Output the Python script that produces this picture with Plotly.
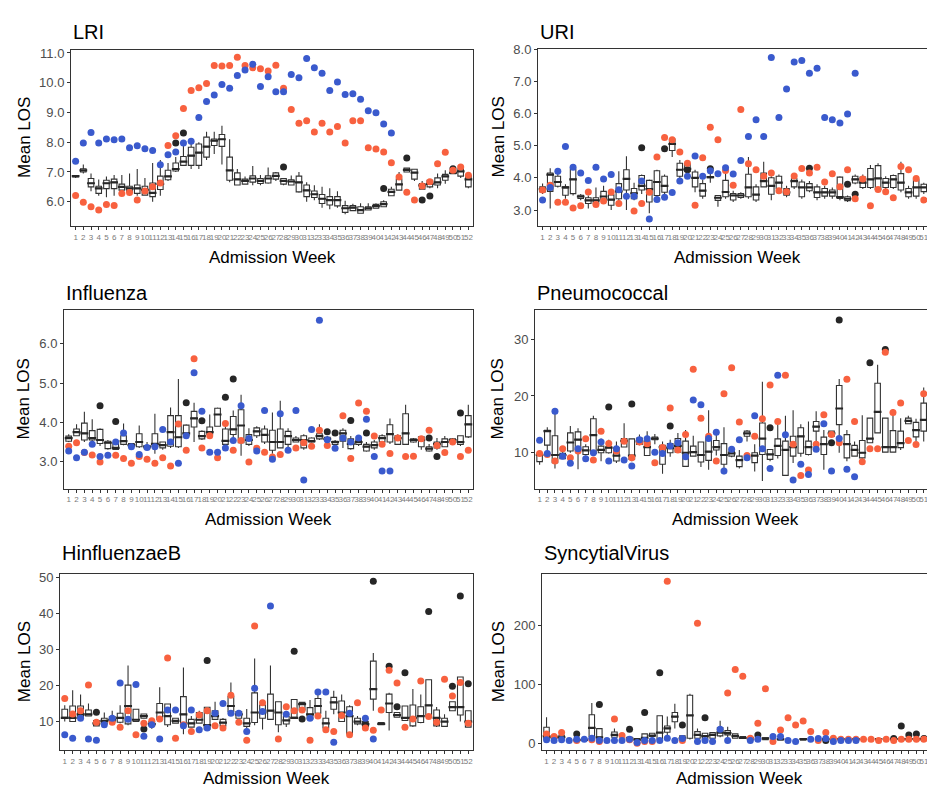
import plotly.graph_objects as go

W, H = 935, 787
weeks = list(range(1, 53))
week_labels = [str(w) for w in weeks]
N = None

# ---------------- LRI ----------------
lri_q1 = [6.83,7.0,6.5,6.28,6.44,6.44,6.39,6.33,6.28,6.22, 6.17,6.41,6.74,7.03,7.22,7.22,7.22,7.5,7.89,7.86,
          6.72,6.56,6.59,6.66,6.61,6.63,6.76,6.59,6.56,6.33, 6.17,6.14,5.94,5.89,5.86,5.64,5.7,5.61,5.72,5.78,
          5.83,6.2,6.39,7.0,6.76,6.42,6.5,6.56,6.72,6.94, 6.86,6.5]
lri_med = [6.86,7.05,6.62,6.45,6.62,6.65,6.5,6.45,6.45,6.4, 6.3,6.6,6.85,7.1,7.35,7.55,7.65,7.85,8.05,8.1,
           7.05,6.75,6.7,6.78,6.7,6.78,6.87,6.7,6.68,6.65, 6.38,6.25,6.1,6.05,6.05,5.78,5.8,5.72,5.78,5.85,
           5.92,6.33,6.58,7.07,6.98,6.55,6.6,6.65,6.85,6.97, 7.02,6.75]
lri_q3 = [6.88,7.11,6.78,6.52,6.72,6.76,6.59,6.52,6.56,6.52, 6.63,6.86,7.06,7.3,7.52,7.83,7.94,8.17,8.11,8.26,
          7.5,6.97,6.76,6.87,6.78,6.87,6.97,6.78,6.74,6.86, 6.56,6.36,6.24,6.17,6.17,5.87,5.87,5.83,5.83,5.91,
          6.0,6.42,6.76,7.13,7.09,6.61,6.72,6.8,6.92,7.02, 7.11,6.89]
lri_lo = [6.8,6.95,6.35,6.2,6.15,6.2,6.3,6.2,6.2,6.2, 6.0,6.2,6.7,7.0,7.2,7.1,7.1,7.4,7.6,7.25,
          6.65,6.55,6.6,6.55,6.55,6.6,6.7,6.55,6.55,6.3, 6.0,6.05,5.8,5.75,5.8,5.58,5.7,5.65,5.72,5.78,
          5.83,6.18,6.4,7.0,6.7,6.4,6.45,6.45,6.6,6.94, 6.8,6.45]
lri_hi = [6.9,7.25,6.95,6.75,6.85,6.9,6.9,6.95,7.1,6.8, 7.3,7.4,7.3,7.5,7.9,8.0,8.0,8.35,8.35,8.55,
          8.1,7.1,6.85,7.2,6.9,7.15,7.0,6.8,6.88,7.0, 6.65,6.55,6.5,6.45,6.35,6.03,5.93,5.95,5.95,5.95,
          6.05,6.5,7.0,7.15,7.1,6.7,6.72,6.95,7.06,7.1, 7.2,6.95]
lri_red = [6.21,5.98,5.83,5.72,5.91,5.87,6.28,6.31,6.06,6.36, 6.5,6.63,7.89,8.22,9.13,9.74,9.83,9.97,10.58,10.56,
           10.58,10.86,10.58,10.5,10.47,10.39,10.59,9.81,9.1,8.64, 8.72,8.34,8.64,8.34,8.53,7.97,8.72,8.72,7.81,7.77,
           7.67,7.31,6.83,6.32,6.06,6.53,6.67,7.28,7.66,7.06, 7.17,6.89]
lri_blue = [7.36,7.97,8.33,7.97,8.11,8.08,8.11,7.81,7.88,7.78, 7.72,7.24,7.58,7.67,7.97,8.03,8.83,9.37,9.59,9.94,
            9.81,10.24,10.43,10.62,9.87,10.2,9.7,9.7,10.28,10.17, 10.81,10.5,10.32,9.74,10.02,9.6,9.63,9.44,9.06,8.99,
            8.61,8.31,N,N,N,N,N,N,N,N, N,N]
lri_black = [N]*13 + [7.97,8.31] + [N]*12 + [7.17] + [N]*12 + [6.44,N,N,7.47,N,6.06,6.19,N,N,7.11,N,N]

# ---------------- URI ----------------
uri_q1 = [3.56,3.58,3.74,3.46,3.51,3.36,3.2,3.2,3.32,3.15, 3.35,3.62,3.35,3.62,3.25,3.45,3.55,4.85,4.05,4.2,
          3.72,3.43,4.0,3.3,3.41,3.31,3.39,3.41,3.31,3.72, 3.49,3.67,3.46,3.72,3.41,3.6,3.39,3.43,3.43,3.36,
          3.29,3.84,3.7,3.7,3.64,3.7,3.7,3.62,3.41,3.43, 3.57,3.36]
uri_med = [3.65,4.1,3.87,3.7,3.95,3.42,3.3,3.3,3.42,3.32, 3.58,3.97,3.52,3.75,3.65,3.87,3.75,5.05,4.25,4.28,
           4.0,3.6,4.02,3.38,3.56,3.45,3.45,3.7,3.48,3.9, 3.75,3.85,3.55,3.9,3.7,3.7,3.55,3.55,3.55,3.4,
           3.35,3.95,3.85,3.95,3.98,3.85,3.95,3.85,3.55,3.7, 3.7,3.45]
uri_q3 = [3.72,4.15,4.05,3.72,4.27,3.46,3.38,3.38,3.58,3.47, 3.82,4.25,3.67,4.07,3.92,4.22,4.05,5.2,4.45,4.42,
          4.18,3.82,4.03,3.45,3.92,3.51,3.51,4.11,3.72,4.15, 4.0,4.05,3.67,3.97,3.87,3.82,3.72,3.67,3.62,4.02,
          3.41,4.05,4.02,4.29,4.38,3.98,4.07,4.13,3.67,3.94, 3.8,3.51]
uri_lo = [3.5,3.05,3.7,3.35,3.45,3.3,3.05,3.1,3.25,3.0, 3.25,3.0,3.3,3.5,2.9,3.4,3.45,4.65,3.95,4.15,
          3.55,3.35,3.85,3.1,3.35,3.25,3.35,3.35,3.25,3.7, 3.3,3.6,3.4,3.65,3.35,3.55,3.3,3.35,3.35,3.3,
          3.25,3.8,3.65,3.65,3.6,3.6,3.65,3.55,3.35,3.35, 3.5,3.3]
uri_hi = [3.82,4.3,4.2,3.8,4.35,3.5,3.45,3.7,3.75,3.6, 4.2,4.67,3.85,4.1,3.95,4.25,4.1,5.25,4.55,4.45,
          4.25,3.95,4.15,3.45,4.3,3.6,3.55,4.65,3.8,4.5, 4.05,4.1,3.75,4.05,3.95,3.9,3.8,3.75,3.7,4.05,
          3.45,4.1,4.1,4.4,4.45,4.05,4.1,4.5,3.75,4.05, 3.85,3.55]
uri_red = [3.62,3.77,3.24,3.24,3.06,3.13,3.56,3.17,3.28,3.56, 3.2,N,2.97,3.2,3.55,4.65,5.25,5.18,4.8,4.45,
           3.15,4.62,5.57,5.18,4.23,3.77,6.12,4.44,4.25,4.05, 4.15,3.6,3.57,4.06,4.29,4.15,4.33,3.87,4.13,3.72,
           4.25,3.35,3.96,3.13,3.64,3.57,3.38,4.35,4.25,3.98, 3.31,3.13]
uri_blue = [3.31,3.7,4.2,4.97,4.33,4.15,3.92,4.33,3.96,4.1, 3.63,3.43,3.43,3.9,2.72,3.33,3.4,3.54,3.9,4.05,
            4.68,4.05,4.22,4.13,4.31,4.12,4.54,5.28,5.8,5.28, 7.74,5.87,6.76,7.6,7.64,7.25,7.4,5.87,5.8,5.7,
            5.98,7.25,N,N,N,N,N,N,N,N, N,N]
uri_black = [N]*13 + [4.93,N,N,4.9,N,N,4.25,N,N,4.28] + [N]*12 + [4.3] + [N]*4 + [3.8,3.49] + [N]*10

# ---------------- Influenza ----------------
flu_q1 = [3.52,3.66,3.55,3.55,3.46,3.33,3.31,3.44,3.38,3.38, 3.33,3.38,3.35,3.39,3.38,3.66,3.88,3.58,3.69,3.9,
          3.44,3.69,3.48,3.44,3.66,3.5,3.29,3.35,3.44,3.5, 3.35,3.5,3.58,3.55,3.44,3.52,3.33,3.44,3.27,3.35,
          3.5,3.5,3.44,3.44,3.5,3.38,3.27,3.35,3.38,3.52, 3.44,3.63]
flu_med = [3.6,3.75,3.72,3.6,3.55,3.48,3.35,3.52,3.42,3.5, 3.38,3.45,3.42,3.75,3.62,3.72,4.1,3.65,3.75,4.2,
           3.53,3.82,3.92,3.55,3.77,3.68,3.5,3.5,3.65,3.55, 3.55,3.52,3.65,3.58,3.5,3.72,3.45,3.5,3.38,3.42,
           3.6,3.7,3.6,3.72,3.55,3.55,3.33,3.45,3.5,3.55, 3.5,3.95]
flu_q3 = [3.65,3.83,3.98,3.79,3.82,3.52,3.48,3.66,3.46,3.71, 3.41,3.71,3.5,4.17,4.17,3.93,4.28,3.77,3.88,4.36,
          3.83,4.15,4.32,3.69,3.86,3.83,3.8,3.83,3.77,3.6, 3.66,3.6,3.71,3.62,3.52,3.8,3.58,3.55,3.44,3.5,
          3.66,3.94,3.66,4.22,3.58,3.63,3.38,3.5,3.58,3.58, 3.66,4.17]
flu_lo = [3.5,3.65,3.5,3.45,3.4,3.3,3.3,3.42,3.35,3.35, 3.3,3.2,3.3,3.35,3.35,3.6,3.5,3.55,3.65,3.9,
          3.35,3.6,3.15,3.4,3.6,3.45,3.2,3.4,3.3,3.5, 3.3,3.48,3.55,3.5,3.4,3.35,3.3,3.4,3.25,3.3,
          3.4,3.45,3.45,3.44,3.48,3.3,3.25,3.3,3.4,3.5, 3.4,3.6]
flu_hi = [3.7,3.95,4.27,4.08,3.85,3.55,3.55,3.97,3.45,3.92, 3.5,4.22,3.5,4.38,5.1,3.95,4.5,3.8,4.2,4.38,
          3.9,4.3,4.7,3.85,3.9,3.92,4.25,4.55,3.85,3.65, 3.7,3.62,3.95,3.65,3.55,3.85,3.65,3.62,3.5,3.55,
          3.7,4.1,3.7,4.45,3.6,3.65,3.45,3.6,3.65,3.6, 3.66,4.45]
flu_red = [3.39,3.48,3.23,3.17,2.99,N,3.16,3.08,2.96,3.13, 3.06,2.96,3.1,2.89,3.96,3.29,5.62,3.35,3.66,3.1,
           3.97,3.29,3.54,2.99,3.34,3.24,3.12,3.18,N,3.35, 3.48,3.39,3.8,3.41,N,4.17,3.08,4.49,4.28,3.65,
           3.44,3.21,3.6,3.13,3.14,3.58,3.8,3.41,3.23,3.5, 3.13,3.29]
flu_blue = [3.27,3.1,3.24,3.44,3.13,3.16,3.5,3.73,3.38,3.18, 3.36,3.38,3.82,3.5,2.96,3.66,5.26,4.28,3.24,3.24,
            3.35,3.54,4.42,3.59,3.27,4.3,3.06,4.22,3.29,4.3, 2.53,3.82,6.6,3.56,3.34,3.6,3.5,3.6,4.08,3.13,
            2.76,2.76,N,N,N,N,N,N,N,N, N,N]
flu_black = [N,N,N,N,4.42,N,4.02,N,N,N, N,N,N,N,N,4.5,N,4.04,N,N, 4.64,5.1,N,N,N,N,N,N,N,N,
             N,N,N,3.76,3.73,N,4.05,N,3.73,N, N,N,N,N,N,N,3.6,3.13,N,N, 4.24,N]

# ---------------- Pneumococcal ----------------
pne_q1 = [8.43,11.34,8.25,8.95,10.3,10.58,9.7,9.88,10.0,10.0, 8.54,11.0,8.83,11.45,9.5,12.3,7.96,10.0,10.1,7.6,
          9.4,8.37,8.66,10.47,7.96,9.4,7.55,12.9,8.25,9.7, 8.83,9.5,6.0,9.4,9.9,9.7,13.8,9.7,12.9,14.95,
          9.1,9.4,9.1,11.75,13.5,10.1,10.1,10.9,15.1,12.8, 13.8,9.1]
pne_med = [9.6,13.8,9.6,9.6,11.8,12.3,10.4,13.1,10.5,10.9, 9.5,12.1,9.5,12.0,11.0,12.5,11.0,10.8,11.2,10.0,
           10.1,9.6,10.2,11.0,9.6,9.9,8.7,13.4,9.5,12.5, 9.7,11.2,10.5,11.0,12.9,11.0,14.6,11.5,13.4,17.8,
           11.5,10.5,10.0,12.5,17.2,11.0,11.0,11.7,15.6,14.0, 15.8,11.0]
pne_q3 = [9.9,13.97,13.0,9.88,13.5,13.67,11.05,16.0,11.17,11.05, 10.87,12.5,12.45,12.6,12.05,12.75,11.3,11.63,12.5,12.05,
          11.17,11.9,12.6,12.15,11.6,10.3,9.4,13.8,10.0,15.25, 10.58,12.45,12.05,12.9,14.4,12.05,15.5,12.75,13.8,21.85,
          13.2,11.3,12.15,16.1,22.25,16.1,13.9,13.8,16.1,15.35, 18.75,12.05]
pne_lo = [7.9,9.5,7.2,9.0,10.0,7.1,9.5,9.9,8.5,9.8, 8.2,11.0,8.5,11.3,9.5,11.5,6.3,9.3,10.1,7.5,
          9.4,7.5,7.0,9.5,6.2,9.2,7.2,12.0,6.7,5.0, 8.5,9.0,6.0,8.2,9.3,9.5,11.8,7.0,12.9,10.0,
          8.5,9.4,8.7,11.75,13.5,10.0,10.0,10.5,15.0,12.0, 12.0,9.1]
pne_hi = [10.0,14.5,16.9,10.2,14.7,14.3,11.5,16.5,12.5,12.3, 12.0,15.2,12.5,13.2,13.8,13.3,12.0,12.3,13.5,14.0,
          13.0,12.0,17.5,13.3,14.5,10.5,10.5,14.0,11.5,22.5, 10.6,15.0,16.5,17.5,15.0,15.5,17.3,14.0,13.8,23.0,
          14.0,12.0,16.6,16.1,25.5,16.1,17.7,16.1,16.5,16.0, 21.5,12.05]
pne_red = [9.88,9.7,8.54,10.7,9.1,10.3,12.45,8.72,13.8,11.63, 10.3,12.04,9.1,11.9,11.6,8.25,10.9,17.9,10.47,13.2,
           24.7,16.1,12.9,8.54,20.4,25.0,15.4,9.5,12.9,16.0, 21.95,15.5,23.65,11.5,6.0,6.97,11.5,16.7,13.2,11.75,
           22.95,15.5,8.4,10.7,10.7,27.7,17.1,18.75,12.15,11.45, 20.4,12.5]
pne_blue = [12.2,9.88,17.3,9.4,8.13,10.7,8.95,10.0,11.9,8.54, 10.7,8.72,7.67,12.3,12.45,10.1,9.88,11.2,11.75,9.3,
            19.3,18.45,12.5,13.6,6.8,10.6,12.3,9.1,16.5,10.7, 7.2,23.65,13.15,5.2,7.96,6.15,10.6,15.1,6.8,12.5,
            7.1,5.75,N,N,N,N,N,N,N,N, N,N]
pne_black = [N]*9 + [18.05,N,N,18.6] + [N]*4 + [14.7] + [N]*12 + [14.4] + [N]*7 + [11.75,33.4,N,N,N,25.85,N,28.2] + [N]*6

# ---------------- HinfluenzaeB ----------------
hib_q1 = [10.9,10.0,10.9,11.55,8.8,9.35,10.0,9.8,9.35,10.0, 10.9,8.8,10.6,9.1,9.55,9.55,8.45,9.55,7.9,10.6,
          8.8,12.75,10.9,8.65,9.75,10.9,10.6,9.1,9.3,10.9, 13.2,10.7,12.3,8.2,13.4,10.0,6.6,9.35,8.65,16.2,
          9.1,12.5,11.2,10.3,8.8,9.75,11.4,8.8,8.65,13.0, 11.8,8.45]
hib_med = [11.0,11.0,12.0,12.0,9.5,10.2,10.5,11.0,14.3,10.5, 11.5,9.3,12.5,11.5,10.2,12.0,9.5,10.5,9.0,11.5,
           9.7,14.3,12.0,9.5,12.5,12.5,13.0,12.5,10.3,11.0, 14.8,12.0,14.3,9.5,15.3,12.5,11.5,10.0,9.3,19.0,
           9.35,15.0,11.8,11.0,11.0,11.5,14.5,11.0,10.0,14.0, 14.0,10.0]
hib_q3 = [13.4,14.3,14.3,13.2,10.3,10.9,11.4,12.3,20.1,13.4, 12.1,10.0,15.0,14.85,10.9,16.9,10.6,12.5,13.95,13.0,
          10.6,16.9,12.75,10.9,17.95,14.6,17.6,15.5,11.4,16.1, 15.3,13.85,16.4,10.9,16.7,15.7,14.1,10.9,10.0,26.75,
          9.7,17.6,12.5,14.3,14.6,14.1,21.6,13.2,10.9,15.5, 22.35,13.0]
hib_lo = [10.0,10.0,10.9,11.5,8.8,9.35,9.5,9.5,9.0,10.0, 10.9,8.0,10.0,8.5,9.5,6.5,8.3,9.5,7.9,10.5,
          8.5,12.0,10.9,8.0,9.0,7.8,10.5,7.0,8.5,10.9, 13.2,10.5,12.0,8.0,12.0,10.0,6.5,9.0,8.65,13.0,
          9.1,7.5,11.2,10.3,8.5,9.5,11.4,8.5,9.0,13.0, 10.0,8.45]
hib_hi = [14.5,18.7,17.5,15.0,10.3,12.5,13.0,14.5,25.5,13.4, 12.1,10.5,19.5,15.0,11.0,25.0,11.5,13.0,13.95,15.5,
          11.0,20.8,12.75,13.5,27.5,15.0,25.5,15.5,11.5,16.1, 15.3,16.0,18.0,13.0,18.5,17.5,14.5,11.5,10.0,29.0,
          9.7,18.0,12.5,14.3,19.0,17.5,21.6,14.0,12.0,15.5, 22.35,13.0]
hib_red = [16.4,12.1,13.0,20.1,9.8,N,9.8,8.45,13.0,6.35, 9.55,10.2,10.7,27.6,5.4,9.1,7.25,11.8,13.0,8.8,
           8.2,17.3,9.8,4.8,36.5,15.2,N,5.15,14.1,13.0, 13.2,4.8,11.5,7.7,7.25,11.65,6.35,15.2,8.2,7.6,
           13.2,24.2,20.7,8.45,10.7,21.25,11.4,9.8,21.7,17.1, 20.8,9.55]
hib_blue = [6.35,5.4,10.9,5.15,4.8,9.1,10.9,20.7,10.6,20.25, 5.9,9.1,5.15,13.2,13.2,8.8,13.2,7.7,8.2,12.3,
            15.0,12.3,12.3,7.25,19.2,12.75,42.0,N,12.0,N, N,10.9,18.2,18.2,4.25,N,12.3,N,10.9,5.15,
            N,N,N,N,N,N,N,N,N,N, N,N]
hib_black = [N,N,N,N,12.6,N,N,N,N,N, 7.9,N,N,N,N,N,N,N,26.9,N, N,N,N,N,N,N,N,N,N,29.5,
             10.7,N,N,N,N,N,N,N,9.1,48.9, N,25.3,14.1,23.5,N,N,40.5,N,N,19.8, 44.8,20.5]

# ---------------- SyncytialVirus ----------------
rsv_q1 = [6.7,7.8,7.8,N,4.0,4.5,11.2,5.6,N,10.0, N,5.6,4.5,4.5,11.2,6.7,18.5,36.4,4.5,8.4,
          8.4,6.7,8.4,12.3,14.0,8.4,8.4,6.0,N,6.0, N,5.0,N,N,5.0,N,N,5.0,N,5.0,
          N,5.0,N,N,5.0,N,5.0,5.0,5.0,5.0, 5.0,N]
rsv_med = [12.0,10.0,10.0,N,5.0,5.5,26.0,10.0,N,14.0, N,8.0,6.0,9.0,13.0,18.0,25.0,45.0,8.0,47.0,
           14.0,12.0,14.0,18.0,17.0,12.0,9.0,8.0,N,8.0, N,7.0,N,N,7.0,N,N,7.0,N,7.0,
           N,7.0,N,N,7.0,N,7.0,7.0,7.0,7.0, 7.0,N]
rsv_q3 = [26.9,12.3,13.4,N,6.0,6.5,48.2,24.6,N,19.0, N,10.0,7.8,15.7,16.8,46.5,29.1,52.1,12.3,81.2,
          19.6,16.8,17.9,26.3,21.3,15.7,11.2,9.0,N,9.0, N,8.0,N,N,8.0,N,N,8.0,N,8.0,
          N,8.0,N,N,8.0,N,8.0,8.0,8.0,8.0, 8.0,N]
rsv_lo = [5.0,7.0,6.0,N,4.0,4.5,8.0,5.0,N,8.0, N,5.0,4.0,4.0,10.0,6.0,12.0,25.0,4.0,6.0,
          5.0,6.0,8.0,10.0,10.0,8.0,8.0,5.0,N,5.0, N,5.0,N,N,5.0,N,N,5.0,N,5.0,
          N,5.0,N,N,5.0,N,5.0,5.0,5.0,5.0, 5.0,N]
rsv_hi = [44.0,13.0,16.0,N,6.0,6.5,68.0,25.0,N,25.0, N,11.0,8.0,16.0,17.0,47.0,45.0,67.0,13.0,84.0,
          25.0,17.0,18.0,38.0,28.0,16.0,12.0,10.0,N,10.0, N,8.0,N,N,8.0,N,N,8.0,N,8.0,
          N,8.0,N,N,8.0,N,8.0,8.0,8.0,8.0, 8.0,N]
rsv_red = [15.7,11.2,17.9,N,4.5,N,5.6,2.8,N,40.9, 12.9,5.6,0.0,2.8,2.8,N,274.5,N,4.5,N,
           203.4,N,N,N,85.2,125.0,113.7,8.4,33.6,92.4, 2.8,22.4,43.1,30.8,37.5,19.6,4.5,17.9,8.4,6.7,
           6.7,6.7,6.7,6.7,4.5,6.7,4.5,6.7,6.7,6.7, 6.7,4.5]
rsv_blue = [5.6,4.5,5.6,4.5,6.7,6.7,8.4,4.5,4.5,4.5, 4.5,6.7,1.1,4.5,4.5,4.5,8.4,4.5,7.8,N,
            2.8,4.5,2.8,23.5,4.5,N,N,4.5,6.7,N, 11.2,11.2,4.5,2.8,N,6.7,7.8,7.8,2.8,4.5,
            4.5,4.5,N,N,N,N,N,N,N,N, N,N]
rsv_black = [N,N,N,N,15.7,N,N,65.5,N,N, N,23.5,N,52.0,N,119.3,N,N,30.8,N, N,43.1,N,N,N,N,N,N,14.0,N,
             N,N,N,N,N,N,N,4.5,N,N, N,N,N,N,N,N,8.0,29.1,14.0,15.7, 8.0,N]

# ---------------- panels ----------------
titles = ["LRI", "URI", "Influenza", "Pneumococcal", "HinfluenzaeB", "SyncytialVirus"]
panels = [
    (lri_q1, lri_med, lri_q3, lri_lo, lri_hi, lri_red, lri_blue, lri_black),
    (uri_q1, uri_med, uri_q3, uri_lo, uri_hi, uri_red, uri_blue, uri_black),
    (flu_q1, flu_med, flu_q3, flu_lo, flu_hi, flu_red, flu_blue, flu_black),
    (pne_q1, pne_med, pne_q3, pne_lo, pne_hi, pne_red, pne_blue, pne_black),
    (hib_q1, hib_med, hib_q3, hib_lo, hib_hi, hib_red, hib_blue, hib_black),
    (rsv_q1, rsv_med, rsv_q3, rsv_lo, rsv_hi, rsv_red, rsv_blue, rsv_black),
]
y_ranges = [[5.18, 11.11], [2.5, 8.01], [2.31, 6.85], [3.65, 35.1], [2.0, 50.9], [-12.3, 287]]
y_ticks = [[6, 7, 8, 9, 10, 11], [3, 4, 5, 6, 7, 8], [3, 4, 5, 6], [10, 20, 30], [10, 20, 30, 40, 50], [0, 100, 200]]
y_tick_text = [["6.0", "7.0", "8.0", "9.0", "10.0", "11.0"], ["3.0", "4.0", "5.0", "6.0", "7.0", "8.0"],
               ["3.0", "4.0", "5.0", "6.0"], ["10", "20", "30"], ["10", "20", "30", "40", "50"], ["0", "100", "200"]]

# panel boxes in pixels: (left, right, top, bottom)
boxes_px = [(63, 465, 35, 213), (530, 928, 34, 213),
            (56, 465, 298, 478), (527, 928, 298, 478),
            (52, 465, 564, 742), (534, 928, 564, 742)]
title_px = [(63, 17), (530, 17), (56, 280), (527, 280), (52, 543), (534, 543)]
ytitle_x = [17, 490, 16, 490, 16, 490]
xtitle_y = [245, 509, 770]

RED = "#F8613F"
BLUE = "#3A5ACD"
BLACK = "#262626"
FONT = "Liberation Sans, Arial, sans-serif"

fig = go.Figure()
layout = dict(width=W, height=H, margin=dict(l=0, r=0, t=0, b=0),
              paper_bgcolor="white", plot_bgcolor="white", showlegend=False,
              font=dict(family=FONT), annotations=[])

for i, (data, (l, r, t, b)) in enumerate(zip(panels, boxes_px)):
    q1, med, q3, lo, hi, red, blue, black = data
    ax = "" if i == 0 else str(i + 1)
    xa, ya = "x" + ax, "y" + ax
    idx = [k for k in range(52) if q1[k] is not None]
    bx = [weeks[k] for k in idx]
    fig.add_trace(go.Box(
        x=bx, q1=[q1[k] for k in idx], median=[med[k] for k in idx],
        q3=[q3[k] for k in idx], lowerfence=[lo[k] for k in idx], upperfence=[hi[k] for k in idx],
        width=0.72, fillcolor="white", line=dict(color="#333333", width=1.1),
        whiskerwidth=0, boxpoints=False, xaxis=xa, yaxis=ya, hoverinfo="skip"))
    # thicker median bars (ggplot fatten)
    px_per_week = (r - l) / 52.2
    fig.add_trace(go.Scatter(
        x=bx, y=[med[k] for k in idx], mode="markers",
        marker=dict(symbol="line-ew", size=0.72 * px_per_week,
                    line=dict(color="#262626", width=2.2)),
        xaxis=xa, yaxis=ya, hoverinfo="skip"))
    for vals, col in ((black, BLACK), (red, RED), (blue, BLUE)):
        fig.add_trace(go.Scatter(x=weeks, y=vals, mode="markers",
                                 marker=dict(color=col, size=7, line=dict(width=0)),
                                 xaxis=xa, yaxis=ya, hoverinfo="skip"))
    layout["xaxis" + ax] = dict(
        domain=[l / W, r / W], anchor=ya, range=[0.4, 52.6],
        tickmode="array", tickvals=weeks, ticktext=week_labels, tickangle=0,
        tickfont=dict(size=8, color="#7a7a7a", family=FONT),
        ticks="outside", ticklen=3, tickcolor="#333333", tickwidth=1,
        showline=True, mirror=True, linecolor="#333333", linewidth=1,
        showgrid=False, zeroline=False)
    layout["yaxis" + ax] = dict(
        domain=[1 - b / H, 1 - t / H], anchor=xa, range=y_ranges[i],
        tickmode="array", tickvals=y_ticks[i], ticktext=y_tick_text[i],
        tickfont=dict(size=13, color="#4D4D4D", family=FONT),
        ticks="outside", ticklen=3, tickcolor="#333333", tickwidth=1,
        showline=True, mirror=True, linecolor="#333333", linewidth=1,
        showgrid=False, zeroline=False)
    tx, ty = title_px[i]
    layout["annotations"].append(dict(
        text=titles[i], x=tx / W, y=1 - ty / H, xref="paper", yref="paper",
        xanchor="left", yanchor="middle", showarrow=False,
        font=dict(size=20, color="black", family=FONT)))
    layout["annotations"].append(dict(
        text="Mean LOS", x=ytitle_x[i] / W, y=1 - ((t + b) / 2) / H, xref="paper", yref="paper",
        xanchor="center", yanchor="middle", textangle=-90, showarrow=False,
        font=dict(size=17, color="black", family=FONT)))
    layout["annotations"].append(dict(
        text="Admission Week", x=((l + r) / 2) / W, y=1 - xtitle_y[i // 2] / H, xref="paper", yref="paper",
        xanchor="center", yanchor="middle", showarrow=False,
        font=dict(size=17, color="black", family=FONT)))

fig.update_layout(**layout)
fig.write_html("out.html")
